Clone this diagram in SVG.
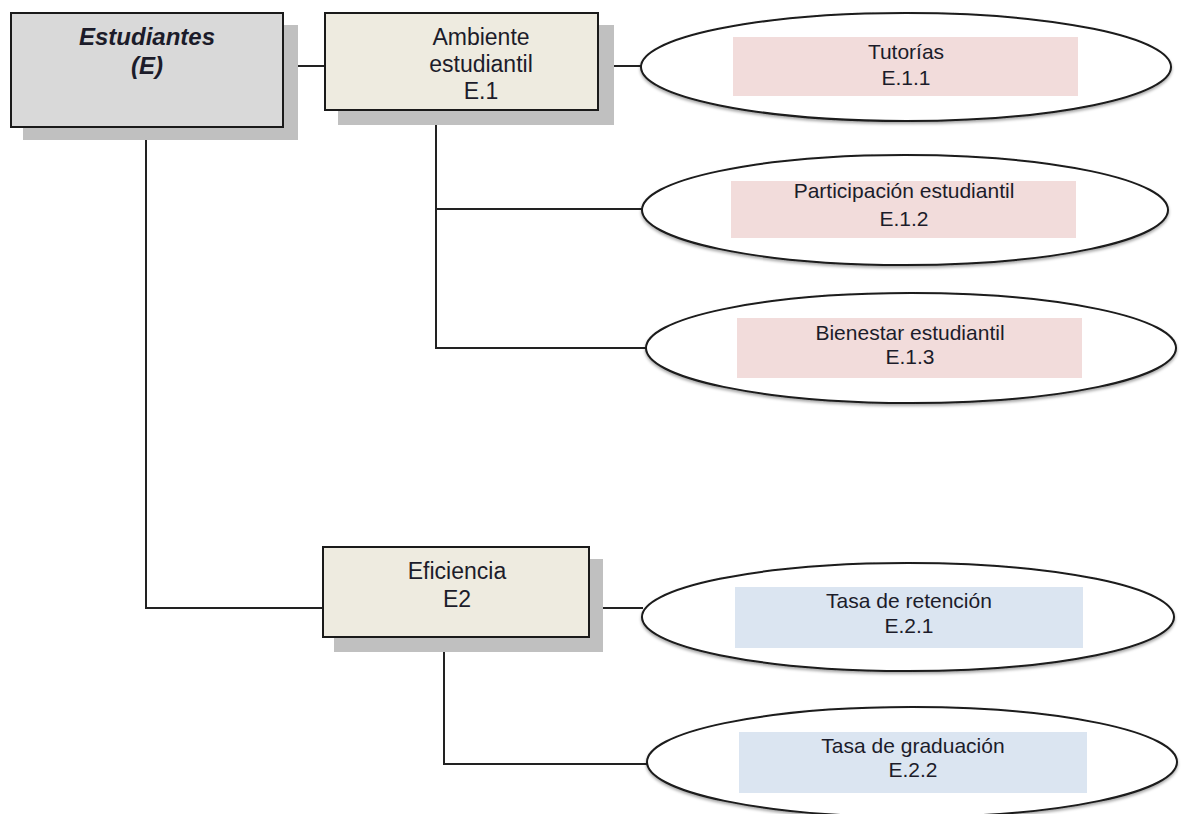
<svg xmlns="http://www.w3.org/2000/svg" width="1181" height="814" viewBox="0 0 1181 814">
<style>
.box{stroke:#1a1a1a;stroke-width:2}
.root{fill:#d9d9d9}
.mid{fill:#eeebe0}
.shadow{fill:#c0c0c0}
.ell{fill:#ffffff;stroke:#1a1a1a;stroke-width:2}
.pink{fill:#f2dcdb}
.blue{fill:#dbe5f1}
.conn{stroke:#222;stroke-width:2;fill:none}
text{font-family:"Liberation Sans",Arial,sans-serif;fill:#1c1c2a;text-anchor:middle}
.t1{font-size:24px;font-weight:bold;font-style:italic}
.t2{font-size:23px}
.t3{font-size:21px}
</style>
<defs>
<filter id="sh" x="-5%" y="-10%" width="110%" height="130%">
<feDropShadow dx="0" dy="2" stdDeviation="1.5" flood-color="#000" flood-opacity="0.35"/>
</filter>
</defs>
<g id="connectors">
<polyline class="conn" points="283,66 325,66"/>
<polyline class="conn" points="598,66 643,66"/>
<polyline class="conn" points="436,110 436,348 647,348"/>
<polyline class="conn" points="436,209 643,209"/>
<polyline class="conn" points="146,127 146,608 323,608"/>
<polyline class="conn" points="589,608 643,608"/>
<polyline class="conn" points="444,637 444,764 648,764"/>
</g>
<g id="estudiantes">
<rect class="shadow" x="23" y="25" width="275" height="115"/>
<rect class="box root" x="11" y="13" width="272" height="114"/>
<text class="t1" x="147" y="45">Estudiantes</text>
<text class="t1" x="147" y="74">(E)</text>
</g>
<g id="ambiente">
<rect class="shadow" x="338" y="25" width="276" height="100"/>
<rect class="box mid" x="325" y="13" width="273" height="97"/>
<text class="t2" x="481" y="45">Ambiente</text>
<text class="t2" x="481" y="72">estudiantil</text>
<text class="t2" x="481" y="99">E.1</text>
</g>
<g id="eficiencia">
<rect class="shadow" x="334" y="559" width="269" height="93"/>
<rect class="box mid" x="323" y="547" width="266" height="90"/>
<text class="t2" x="457" y="579">Eficiencia</text>
<text class="t2" x="457" y="607">E2</text>
</g>
<g id="tutorias">
<ellipse class="ell" filter="url(#sh)" cx="906" cy="67" rx="265" ry="54"/>
<rect class="pink" x="733" y="37" width="345" height="59"/>
<text class="t3" x="906" y="59">Tutorías</text>
<text class="t3" x="906" y="85">E.1.1</text>
</g>
<g id="participacion">
<ellipse class="ell" filter="url(#sh)" cx="905" cy="210" rx="263" ry="55"/>
<rect class="pink" x="731" y="181" width="345" height="57"/>
<text class="t3" x="904" y="198">Participación estudiantil</text>
<text class="t3" x="904" y="226">E.1.2</text>
</g>
<g id="bienestar">
<ellipse class="ell" filter="url(#sh)" cx="911" cy="348" rx="265" ry="55"/>
<rect class="pink" x="737" y="318" width="345" height="60"/>
<text class="t3" x="910" y="340">Bienestar estudiantil</text>
<text class="t3" x="910" y="364">E.1.3</text>
</g>
<g id="retencion">
<ellipse class="ell" filter="url(#sh)" cx="908" cy="617" rx="266" ry="54"/>
<rect class="blue" x="735" y="587" width="348" height="61"/>
<text class="t3" x="909" y="608">Tasa de retención</text>
<text class="t3" x="909" y="633">E.2.1</text>
</g>
<g id="graduacion">
<ellipse class="ell" filter="url(#sh)" cx="912" cy="762" rx="265" ry="55"/>
<rect class="blue" x="739" y="732" width="348" height="61"/>
<text class="t3" x="913" y="753">Tasa de graduación</text>
<text class="t3" x="913" y="777">E.2.2</text>
</g>
</svg>
